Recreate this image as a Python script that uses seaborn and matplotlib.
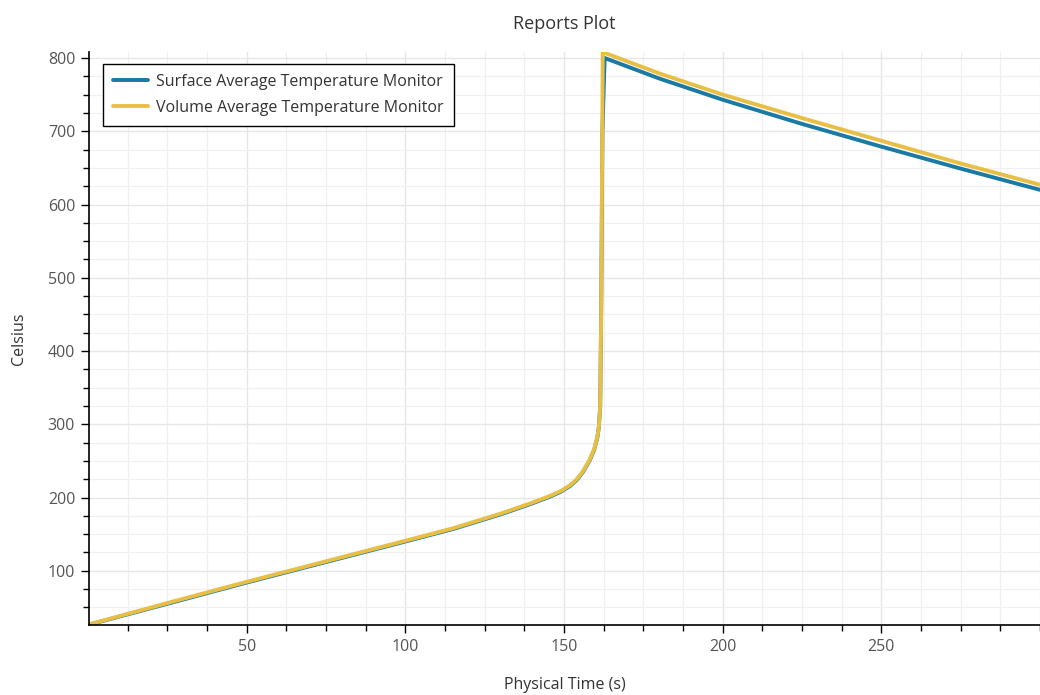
import matplotlib
matplotlib.use("Agg")
import matplotlib.pyplot as plt
from matplotlib.ticker import MultipleLocator
import seaborn as sns
import pandas as pd

series_names = ["Surface Average Temperature Monitor", "Volume Average Temperature Monitor"]

surface_time = [0.3, 25, 50, 75, 100, 115, 130, 140, 146, 149, 152, 154, 156, 158, 159.5, 160.5,
                161, 161.4, 161.7, 162.1, 162.8, 180, 200, 225, 250, 275, 300]
surface_temp = [26.5, 55, 84, 112, 140, 157, 177, 192, 202, 208, 216, 224, 235, 250, 265, 282,
                297, 325, 450, 700, 800, 772, 743, 710, 679, 649, 620]

volume_time = [0.3, 25, 50, 75, 100, 115, 130, 140, 146, 149, 152, 154, 156, 158, 159.5, 160.5,
               161, 161.4, 161.7, 162.2, 180, 200, 225, 250, 275, 300]
volume_temp = [26.8, 56, 85, 113, 141, 158, 178, 193, 203, 209, 217, 225, 236, 251, 266, 283,
               298, 326, 450, 808, 779, 750, 718, 687, 656, 627]

x_ticks = [50, 100, 150, 200, 250]
y_ticks = [100, 200, 300, 400, 500, 600, 700, 800]

df = pd.concat([
    pd.DataFrame({"t": surface_time, "v": surface_temp, "series": series_names[0]}),
    pd.DataFrame({"t": volume_time, "v": volume_temp, "series": series_names[1]}),
], ignore_index=True)

sns.set_theme(style="ticks")
plt.rcParams["font.family"] = ["Open Sans", "DejaVu Sans"]

fig = plt.figure(figsize=(10.4, 6.95), dpi=100)
ax = fig.add_axes([0.0856, 0.1007, 0.9144, 0.8243])

palette = {series_names[0]: "#1a7aa3", series_names[1]: "#e8bf45"}
sns.lineplot(data=df, x="t", y="v", hue="series", palette=palette, sort=False,
             estimator=None, linewidth=2.8, ax=ax)

ax.set_xlim(0.3, 300)
ax.set_ylim(26, 808)
ax.set_xticks(x_ticks)
ax.set_yticks(y_ticks)
ax.xaxis.set_minor_locator(MultipleLocator(12.5))
ax.yaxis.set_minor_locator(MultipleLocator(25))
ax.grid(True, which="major", color="#e6e6e6", linewidth=1.0)
ax.grid(True, which="minor", color="#f0f0f0", linewidth=0.9)
ax.set_axisbelow(True)

for s in ["top", "right"]:
    ax.spines[s].set_visible(False)
for s in ["left", "bottom"]:
    ax.spines[s].set_color("black")
    ax.spines[s].set_linewidth(1.2)

ax.tick_params(which="major", direction="out", length=6, width=1, color="black",
               labelsize=11.5, labelcolor="#555555", pad=4)
ax.tick_params(which="minor", direction="out", length=4, width=1, color="black")

ax.set_xlabel("Physical Time (s)", fontsize=11.5, color="#333333", labelpad=16)
ax.set_ylabel("Celsius", fontsize=11.5, color="#333333", labelpad=15)
ax.set_title("Reports Plot", fontsize=13, color="#333333", pad=17)

leg = ax.legend(loc="upper left", bbox_to_anchor=(0.0147, 0.979), frameon=True,
                fancybox=False, edgecolor="black", framealpha=1, fontsize=11.5,
                handlelength=2.2, handletextpad=0.5, borderpad=0.62, labelspacing=0.62,
                borderaxespad=0)
leg.get_frame().set_linewidth(1.0)
for t in leg.get_texts():
    t.set_color("#333333")
for line in leg.get_lines():
    line.set_linewidth(2.8)

fig.savefig("out.png", dpi=100)
